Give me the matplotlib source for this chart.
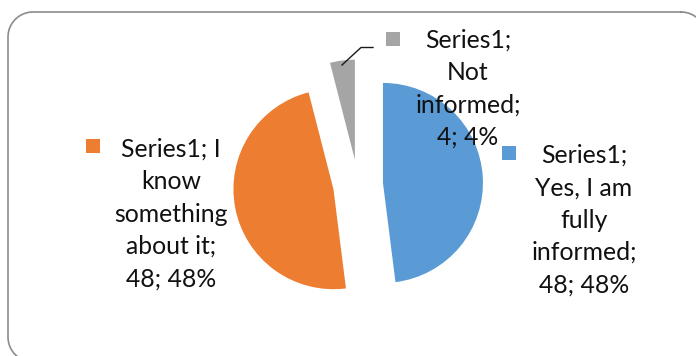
import textwrap
import numpy as np
import matplotlib
matplotlib.use("Agg")
import matplotlib.pyplot as plt
from matplotlib.patches import Rectangle

# Survey data
series_name = "Series1"
categories = ["Yes, I am fully informed", "I know something about it", "Not informed"]
values = [48, 48, 4]
colors = ["#5B9BD5", "#ED7D31", "#A5A5A5"]

W, H = 696, 356
DPI = 100
fig = plt.figure(figsize=(W / DPI, H / DPI), dpi=DPI)
fig.patch.set_facecolor("white")

# overlay in pixel coordinates for the rounded chart-area frame
frame_ax = fig.add_axes([0, 0, 1, 1])
frame_ax.set_xlim(0, W)
frame_ax.set_ylim(H, 0)
frame_ax.axis("off")


def rounded_rect(x0, y0, x1, y1, r, n=24):
    """closed outline of a rounded rectangle (y pointing down)"""
    pts = []
    corners = [((x1 - r, y0 + r), -90, 0), ((x1 - r, y1 - r), 0, 90),
               ((x0 + r, y1 - r), 90, 180), ((x0 + r, y0 + r), 180, 270)]
    for (ccx, ccy), a0, a1 in corners:
        t = np.radians(np.linspace(a0, a1, n))
        pts.extend(zip(ccx + r * np.cos(t), ccy + r * np.sin(t)))
    pts.append(pts[0])
    return np.array(pts)


outline = rounded_rect(8, 12, 706, 362, 25)
frame_ax.plot(outline[:, 0], outline[:, 1], color="#8C8C8C",
              linewidth=1.2, clip_on=True)

# pie axes spanning the figure, 1 data unit = 100 px
ax = fig.add_axes([0, 0, 1, 1])
ax.patch.set_alpha(0)
cx, cy = 358, 184.5  # pie centre in pixels (from top-left)
unit = 100.0


def px(x, y):
    """pixel position (top-left origin) -> data coordinates"""
    return (x - cx) / unit, (cy - y) / unit


ax.pie(values, colors=colors, startangle=90, counterclock=False,
       explode=[0.25] * len(values), radius=1.0,
       wedgeprops=dict(linewidth=0))
ax.set_xlim(-cx / unit, (W - cx) / unit)
ax.set_ylim(-(H - cy) / unit, cy / unit)
ax.set_aspect("equal")
ax.axis("off")

total = sum(values)
labels = [f"{series_name}; {c}; {v}; {round(100 * v / total)}%"
          for c, v in zip(categories, values)]

# label layout: text centre x, first baseline y, marker box (left, top)
label_pos = [
    (584, 163, (502, 146)),
    (171, 157, (86, 139)),
    (468, 48, (386, 32)),
]
line_step = 32.3
font = dict(family=["Lato", "DejaVu Sans"], size=17.8, color="#111111")

for lab, col, (tx, by, (mx, my)) in zip(labels, colors, label_pos):
    for i, line in enumerate(textwrap.wrap(lab, width=10)):
        x, y = px(tx, by + i * line_step)
        ax.text(x, y, line, ha="center", va="baseline", **font)
    x0, y0 = px(mx, my + 14)
    ax.add_patch(Rectangle((x0, y0), 14 / unit, 14 / unit,
                           facecolor=col, edgecolor="none"))

# leader line for the small slice
lx, ly = zip(px(342, 65), px(361, 47.5), px(373, 47.5))
ax.plot(lx, ly, color="#1a1a1a", linewidth=1.0)

fig.savefig("out.png", dpi=DPI)
